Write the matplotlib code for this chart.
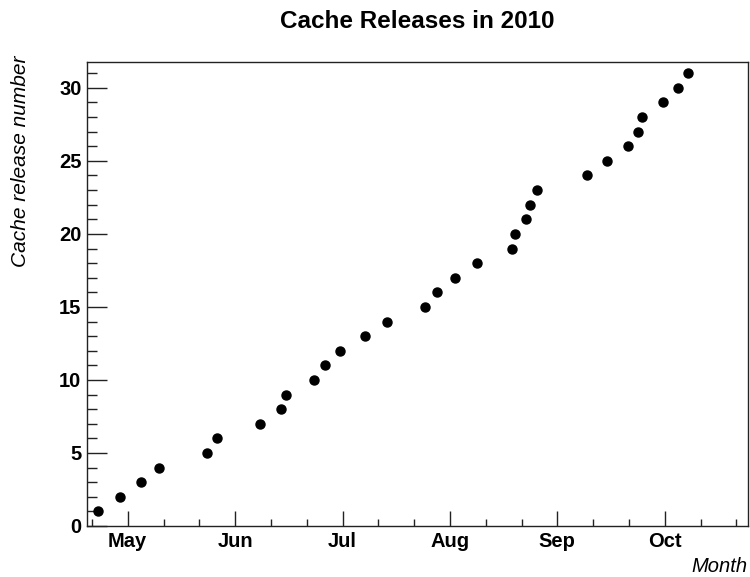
import matplotlib.pyplot as plt
from matplotlib.ticker import MultipleLocator

# release dates as fractional month (5 = 1 May, 6 = 1 Jun, ...)
release_month = [4.72, 4.93, 5.12, 5.29, 5.74, 5.83, 6.23, 6.43, 6.47, 6.73,
                 6.84, 6.98, 7.21, 7.41, 7.77, 7.88, 8.05, 8.25, 8.58, 8.61,
                 8.71, 8.75, 8.81, 9.28, 9.46, 9.66, 9.75, 9.79, 9.98, 10.12,
                 10.22]
release_number = list(range(1, 32))

month_ticks = [5, 6, 7, 8, 9, 10]
month_labels = ["May", "Jun", "Jul", "Aug", "Sep", "Oct"]

plt.rcParams['font.family'] = ['Liberation Sans', 'DejaVu Sans']

fig = plt.figure(figsize=(7.5, 5.77), dpi=100)
ax = fig.add_axes([0.116, 0.0884, 0.881, 0.8036])

ax.plot(release_month, release_number, 'o', color='black', markersize=6.5)

ax.set_xlim(4.621, 10.773)
ax.set_ylim(0, 31.75)

ax.set_xticks(month_ticks)
ax.set_xticklabels(month_labels)
ax.xaxis.set_minor_locator(MultipleLocator(1 / 3))
ax.yaxis.set_major_locator(MultipleLocator(5))
ax.yaxis.set_minor_locator(MultipleLocator(1))

ax.tick_params(axis='both', which='both', direction='in', top=False, right=False,
               width=1.0, color='#222222')
ax.tick_params(axis='x', which='major', length=10.8, pad=4.5, labelsize=14.5)
ax.tick_params(axis='x', which='minor', length=5)
ax.tick_params(axis='y', which='major', length=14.4, pad=4, labelsize=14.5)
ax.tick_params(axis='y', which='minor', length=7.2)
for lbl in ax.get_xticklabels() + ax.get_yticklabels():
    lbl.set_fontweight('bold')

for s in ax.spines.values():
    s.set_linewidth(1.0)
    s.set_color('#222222')

fig.text(0.556, 0.9636, "Cache Releases in 2010", fontsize=17.5, fontweight='bold',
         ha='center', va='center')
fig.text(0.027, 0.72, "Cache release number", fontsize=15, style='italic',
         rotation=90, ha='center', va='center')
fig.text(0.997, 0.019, "Month", fontsize=14.5, style='italic', ha='right', va='center')

fig.savefig("out.png", dpi=100)
